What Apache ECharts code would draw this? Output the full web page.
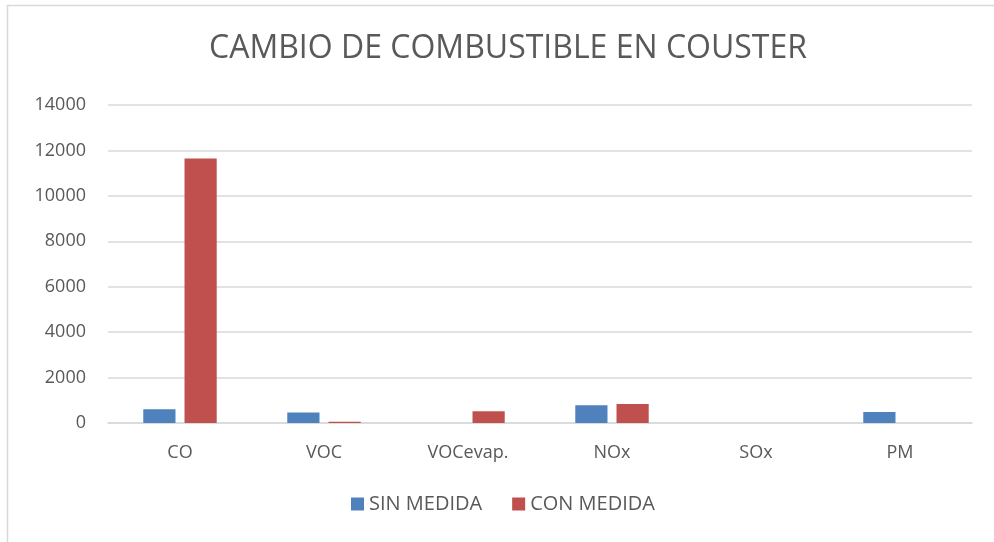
<!DOCTYPE html>
<html>
<head>
<meta charset="utf-8">
<title>CAMBIO DE COMBUSTIBLE EN COUSTER</title>
<script src="https://cdn.jsdelivr.net/npm/echarts@6/dist/echarts.min.js"></script>
<style>
  html, body { margin: 0; padding: 0; background: #fff; }
  #chart { width: 994px; height: 542px; }
</style>
</head>
<body>
<div id="chart"></div>
<script>
// datos
var categorias = ['CO', 'VOC', 'VOCevap.', 'NOx', 'SOx', 'PM'];
var sinMedida = [610, 460, 0, 780, 0, 485];
var conMedida = [11640, 60, 520, 840, 0, 0];
var yTicks = [0, 2000, 4000, 6000, 8000, 10000, 12000, 14000];

var textColor = '#595959';
var fontName = 'Open Sans';

var myChart = echarts.init(document.getElementById('chart'));

var option = {
	animation : false,
	title : {
		text : 'CAMBIO DE COMBUSTIBLE EN COUSTER',
		left : 204,
		top : 28,
		textStyle : {
			color : textColor,
			fontFamily : fontName,
			fontWeight : 'normal',
			fontSize : 32
		}
	},
	graphic : [{
		type : 'rect',
		shape : { x : 7.5, y : 5.5, width : 1000, height : 600 },
		style : { fill : 'none', stroke : '#d9d9d9', lineWidth : 1.5 },
		silent : true
	}],
	legend : {
		bottom : 23,
		left : 346,
		itemWidth : 13,
		itemHeight : 13,
		itemGap : 30,
		icon : 'rect',
		textStyle : { color : textColor, fontFamily : fontName, fontSize : 20 },
		data : ['SIN MEDIDA', 'CON MEDIDA']
	},
	grid : { left : 108, right : 22, top : 105, bottom : 119 },
	xAxis : {
		type : 'category',
		data : categorias,
		axisLine : { lineStyle : { color : '#d9d9d9', width : 1.5 } },
		axisTick : { show : false },
		axisLabel : { color : textColor, fontFamily : fontName, fontSize : 18, margin : 21 }
	},
	yAxis : {
		type : 'value',
		min : yTicks[0],
		max : yTicks[yTicks.length - 1],
		interval : yTicks[1] - yTicks[0],
		axisLine : { show : false },
		axisTick : { show : false },
		splitLine : { lineStyle : { color : '#d9d9d9', width : 1.5 } },
		axisLabel : {
			color : textColor,
			fontFamily : fontName,
			fontSize : 18,
			margin : 22,
			formatter : function(v) { return String(v); }
		}
	},
	series : [{
		name : 'SIN MEDIDA',
		type : 'bar',
		data : sinMedida,
		barGap : '28%',
		barCategoryGap : '49%',
		itemStyle : { color : '#4f81bd' }
	}, {
		name : 'CON MEDIDA',
		type : 'bar',
		data : conMedida,
		itemStyle : { color : '#c0504d' }
	}]
};

myChart.setOption(option);
</script>
</body>
</html>
